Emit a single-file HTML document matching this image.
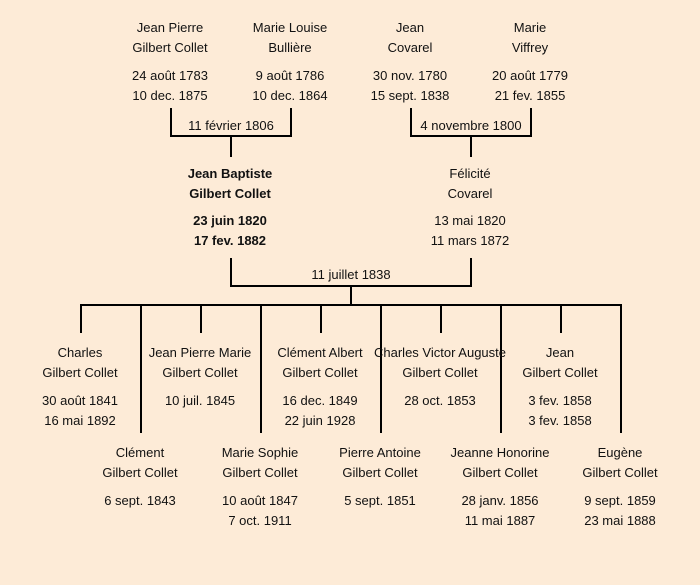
<!DOCTYPE html>
<html><head><meta charset="utf-8"><style>
body{margin:0;width:700px;height:585px;background:#fdebd7;position:relative;overflow:hidden;font-family:"Liberation Sans",sans-serif;font-size:13px;color:#111}
.t{position:absolute;width:160px;margin-left:-80px;text-align:center;line-height:20px;white-space:nowrap}
.b{font-weight:bold}
.h{position:absolute;height:2px;background:#000}
.v{position:absolute;width:2px;background:#000}
.l{position:absolute;width:120px;margin-left:-60px;text-align:center;line-height:16px}
</style></head><body>
<div class="v" style="left:170px;top:108px;height:29px"></div>
<div class="v" style="left:290px;top:108px;height:29px"></div>
<div class="h" style="left:170px;top:135px;width:122px"></div>
<div class="v" style="left:230px;top:136px;height:21px"></div>
<div class="v" style="left:410px;top:108px;height:29px"></div>
<div class="v" style="left:530px;top:108px;height:29px"></div>
<div class="h" style="left:410px;top:135px;width:122px"></div>
<div class="v" style="left:470px;top:136px;height:21px"></div>
<div class="v" style="left:230px;top:258px;height:29px"></div>
<div class="v" style="left:470px;top:258px;height:29px"></div>
<div class="h" style="left:230px;top:285px;width:242px"></div>
<div class="v" style="left:350px;top:286px;height:20px"></div>
<div class="h" style="left:80px;top:304px;width:542px"></div>
<div class="v" style="left:80px;top:305px;height:28px"></div>
<div class="v" style="left:200px;top:305px;height:28px"></div>
<div class="v" style="left:320px;top:305px;height:28px"></div>
<div class="v" style="left:440px;top:305px;height:28px"></div>
<div class="v" style="left:560px;top:305px;height:28px"></div>
<div class="v" style="left:140px;top:305px;height:128px"></div>
<div class="v" style="left:260px;top:305px;height:128px"></div>
<div class="v" style="left:380px;top:305px;height:128px"></div>
<div class="v" style="left:500px;top:305px;height:128px"></div>
<div class="v" style="left:620px;top:305px;height:128px"></div>
<div class="l" style="left:231px;top:118px">11 février 1806</div>
<div class="l" style="left:471px;top:118px">4 novembre 1800</div>
<div class="l" style="left:351px;top:267px">11 juillet 1838</div>
<div class="t" style="left:170px;top:18px">Jean Pierre<br>Gilbert Collet</div>
<div class="t" style="left:170px;top:66px">24 août 1783<br>10 dec. 1875</div>
<div class="t" style="left:290px;top:18px">Marie Louise<br>Bullière</div>
<div class="t" style="left:290px;top:66px">9 août 1786<br>10 dec. 1864</div>
<div class="t" style="left:410px;top:18px">Jean<br>Covarel</div>
<div class="t" style="left:410px;top:66px">30 nov. 1780<br>15 sept. 1838</div>
<div class="t" style="left:530px;top:18px">Marie<br>Viffrey</div>
<div class="t" style="left:530px;top:66px">20 août 1779<br>21 fev. 1855</div>
<div class="t b" style="left:230px;top:164px">Jean Baptiste<br>Gilbert Collet</div>
<div class="t b" style="left:230px;top:211px">23 juin 1820<br>17 fev. 1882</div>
<div class="t" style="left:470px;top:164px">Félicité<br>Covarel</div>
<div class="t" style="left:470px;top:211px">13 mai 1820<br>11 mars 1872</div>
<div class="t" style="left:80px;top:343px">Charles<br>Gilbert Collet</div>
<div class="t" style="left:80px;top:391px">30 août 1841<br>16 mai 1892</div>
<div class="t" style="left:200px;top:343px">Jean Pierre Marie<br>Gilbert Collet</div>
<div class="t" style="left:200px;top:391px">10 juil. 1845</div>
<div class="t" style="left:320px;top:343px">Clément Albert<br>Gilbert Collet</div>
<div class="t" style="left:320px;top:391px">16 dec. 1849<br>22 juin 1928</div>
<div class="t" style="left:440px;top:343px">Charles Victor Auguste<br>Gilbert Collet</div>
<div class="t" style="left:440px;top:391px">28 oct. 1853</div>
<div class="t" style="left:560px;top:343px">Jean<br>Gilbert Collet</div>
<div class="t" style="left:560px;top:391px">3 fev. 1858<br>3 fev. 1858</div>
<div class="t" style="left:140px;top:443px">Clément<br>Gilbert Collet</div>
<div class="t" style="left:140px;top:491px">6 sept. 1843</div>
<div class="t" style="left:260px;top:443px">Marie Sophie<br>Gilbert Collet</div>
<div class="t" style="left:260px;top:491px">10 août 1847<br>7 oct. 1911</div>
<div class="t" style="left:380px;top:443px">Pierre Antoine<br>Gilbert Collet</div>
<div class="t" style="left:380px;top:491px">5 sept. 1851</div>
<div class="t" style="left:500px;top:443px">Jeanne Honorine<br>Gilbert Collet</div>
<div class="t" style="left:500px;top:491px">28 janv. 1856<br>11 mai 1887</div>
<div class="t" style="left:620px;top:443px">Eugène<br>Gilbert Collet</div>
<div class="t" style="left:620px;top:491px">9 sept. 1859<br>23 mai 1888</div>
</body></html>
